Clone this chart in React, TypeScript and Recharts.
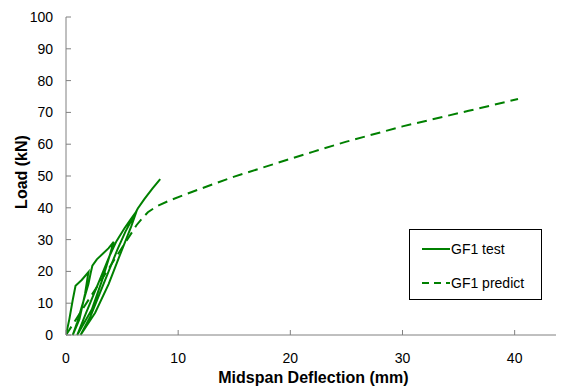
import React from 'react';
import { LineChart, Line, XAxis, YAxis } from 'recharts';

// GF1 test (cyclic loading) – deflection (mm) and load (kN), in path order
const testDeflection = [
  0, 0.3, 0.6, 0.85, 1.4, 2.0,
  1.7, 1.2, 0.6,
  1.0, 1.5, 2.0, 2.2, 2.35, 2.75, 3.3, 3.8, 4.25,
  3.9, 3.2, 2.3, 1.0,
  1.8, 2.5, 3.2, 3.9, 4.5, 5.2, 5.8, 6.3,
  5.8, 4.9, 3.8, 2.6, 1.3,
  2.2, 3.0, 3.8, 4.6, 5.3, 5.9, 6.4, 7.0, 7.7, 8.4,
];
const testLoad = [
  0, 5, 11, 15.5, 17.3, 19.8,
  13, 5, 0,
  4, 10, 16, 19.5, 21.8, 23.8, 25.6, 27.3, 29.3,
  25, 17, 8, 0,
  7, 13, 19, 25, 29.5, 33.5, 36.5, 39,
  34, 26, 16, 7, 0,
  6, 13, 20, 27, 32.5, 36.5, 39.8, 42.8, 46, 49,
];

// GF1 predict
const predictDeflection = [0, 6.3, 6.9, 7.3, 8.1, 9.3, 12, 15, 20, 22, 25, 30, 35.9, 40.3];
const predictLoad = [0, 34.6, 37.1, 38.6, 40.5, 42.4, 46, 49.8, 55.4, 57.6, 60.8, 65.6, 70.5, 74.2];

const xTicks = [0, 10, 20, 30, 40];
const yTicks = [0, 10, 20, 30, 40, 50, 60, 70, 80, 90, 100];

const seriesNames = ['GF1 test', 'GF1 predict'];
const xTitle = 'Midspan Deflection (mm)';
const yTitle = 'Load (kN)';

const testData = testDeflection.map((x, i) => ({ x, y: testLoad[i] }));
const predictData = predictDeflection.map((x, i) => ({ x, y: predictLoad[i] }));

const FONT = '"Liberation Sans", Arial, sans-serif';
const GREEN = '#008000';
const AXIS = '#808080';

const XTitle = () => (
  <text x={305.4} y={374.7} textAnchor="middle" fontFamily={FONT} fontSize={16} fontWeight="bold" fill="#000">
    {xTitle}
  </text>
);

const YTitle = () => (
  <text
    x={0}
    y={0}
    transform="translate(18.5 164) rotate(-90)"
    textAnchor="middle"
    fontFamily={FONT}
    fontSize={16}
    fontWeight="bold"
    fill="#000"
  >
    {yTitle}
  </text>
);

export default function App() {
  return (
    <div style={{ position: 'relative', width: 556, height: 382, fontFamily: FONT }}>
      <LineChart width={556} height={382} margin={{ top: 9, right: 0, bottom: 0, left: 0 }}>
        <XAxis
          type="number"
          dataKey="x"
          domain={[0, 44.4]}
          ticks={xTicks}
          allowDataOverflow
          height={55}
          stroke={AXIS}
          tickSize={-5}
          tickMargin={23}
          tick={{ fill: '#000', fontSize: 14, fontFamily: FONT }}
          label={{ content: XTitle }}
        />
        <YAxis
          type="number"
          domain={[0, 100]}
          ticks={yTicks}
          width={58}
          stroke={AXIS}
          tickSize={-5}
          tickMargin={18}
          tick={{ fill: '#000', fontSize: 14, fontFamily: FONT }}
          label={{ content: YTitle }}
        />
        <Line
          data={predictData}
          dataKey="y"
          type="linear"
          stroke={GREEN}
          strokeWidth={2}
          strokeDasharray="10 6"
          dot={false}
          isAnimationActive={false}
        />
        <Line
          data={testData}
          dataKey="y"
          type="linear"
          stroke={GREEN}
          strokeWidth={2}
          dot={false}
          isAnimationActive={false}
        />
      </LineChart>
      <div
        style={{
          position: 'absolute',
          left: 401,
          top: 221,
          width: 133,
          height: 71,
          boxSizing: 'border-box',
          border: '1px solid #000',
          background: '#fff',
          fontSize: 14,
          color: '#000',
        }}
      >
        {seriesNames.map((name, i) => (
          <div
            key={name}
            style={{ position: 'absolute', left: 0, top: i === 0 ? 11.7 : 46, height: 14, width: 131 }}
          >
            <svg width={30} height={14} style={{ position: 'absolute', left: 11.7, top: 0 }}>
              <line
                x1={0}
                y1={7}
                x2={28}
                y2={7}
                stroke={GREEN}
                strokeWidth={2}
                strokeDasharray={i === 1 ? '7 5' : undefined}
              />
            </svg>
            <span style={{ position: 'absolute', left: 41, top: 0, lineHeight: '14px', whiteSpace: 'nowrap' }}>
              {name}
            </span>
          </div>
        ))}
      </div>
    </div>
  );
}
